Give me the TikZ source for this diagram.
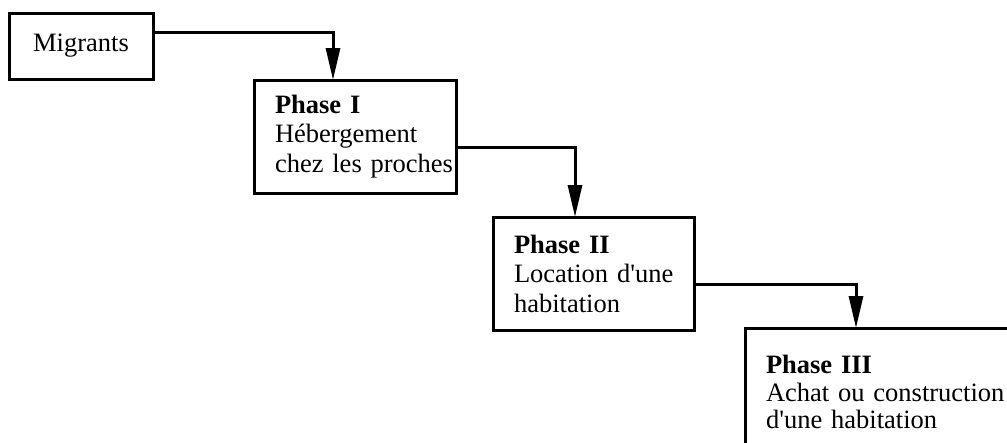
\documentclass[tikz,border=0pt]{standalone}
\usepackage{fontspec}
\setmainfont{Liberation Serif}
\usetikzlibrary{positioning,arrows.meta}

\tikzset{
  box/.style={draw, line width=3pt, outer sep=0pt, inner ysep=0pt,
    font=\fontsize{26.5pt}{29.5pt}\selectfont},
  stage/.style={box, align=left, inner xsep=21pt, minimum height=113pt},
  flow/.style={line width=3pt, -{Triangle[length=32pt, width=14pt]}}
}

\begin{document}
\begin{tikzpicture}
  \useasboundingbox (0,0) rectangle (1007pt,-442pt);
  \clip (0,0) rectangle (1007pt,-442pt);

  \node[box, anchor=north west, minimum width=144pt, minimum height=66pt, inner xsep=0pt]
    (Mig) at (9pt,-13pt) {Migrants};
  \node[stage, text width=160pt, below right=1pt and 101pt of Mig.south east]
    (P1) {\textbf{Phase I}\\H\'ebergement\\\mbox{chez les proches}};
  \node[stage, text width=159pt, below right=24pt and 37pt of P1.south east]
    (P2) {\textbf{Phase II}\\\mbox{Location d\textquotesingle une}\\habitation};
  \node[stage, text width=238pt, minimum height=128pt, below right=-2pt and 51pt of P2.south east,
    font=\fontsize{26.5pt}{27.5pt}\selectfont]
    (P3) {\textbf{Phase III}\\\mbox{Achat ou construction}\\\mbox{d\textquotesingle une habitation}};

  \draw[flow] ([yshift=-19pt]Mig.north east) -| ([xshift=79pt]P1.north west);
  \draw[flow] ([yshift=-67pt]P1.north east) -| ([xshift=82pt]P2.north west);
  \draw[flow] ([yshift=-67pt]P2.north east) -| ([xshift=111pt]P3.north west);
\end{tikzpicture}
\end{document}
